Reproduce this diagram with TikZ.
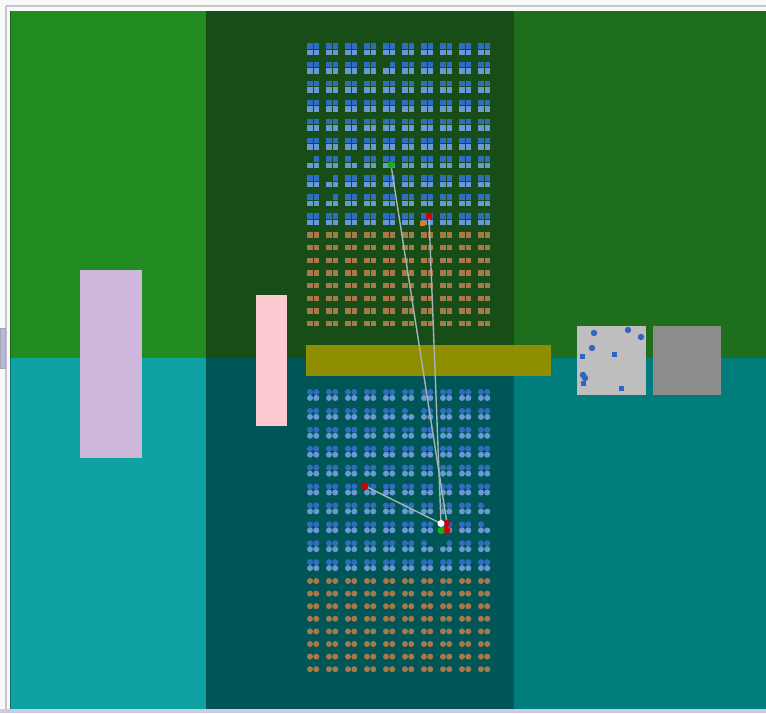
\documentclass[tikz,border=0pt]{standalone}
\begin{document}
\definecolor{cTL}{HTML}{228B22}
\definecolor{cTC}{HTML}{174D17}
\definecolor{cTR}{HTML}{1E6E1E}
\definecolor{cBL}{HTML}{0EA2A2}
\definecolor{cBC}{HTML}{005656}
\definecolor{cBR}{HTML}{007C7C}
\definecolor{bdark}{HTML}{2F6DC0}
\definecolor{blight}{HTML}{6A98D2}
\definecolor{brn}{HTML}{A6784A}
\definecolor{thist}{HTML}{CDB8DB}
\definecolor{pinkr}{HTML}{FDCAD2}
\definecolor{olive}{HTML}{8E8E00}
\definecolor{lgray}{HTML}{BEBEBE}
\definecolor{mgray}{HTML}{8C8C8C}
\definecolor{dotblue}{HTML}{2F64C0}
\definecolor{linec}{HTML}{A6B4B4}
\definecolor{tabc}{HTML}{B8B8E6}
\begin{tikzpicture}[x=1pt,y=-1pt,
  conn/.style={draw=linec,line width=1.4pt},
  mark1/.style={circle,inner sep=0pt,minimum size=7pt},
]
\useasboundingbox (0,0) rectangle (766,713);
\fill[white!95!gray] (0,0) rectangle (766,713);
\draw[gray!45,line width=1.5pt] (6,6) -- (766,6);
\draw[gray!45,line width=1.5pt] (6,6) -- (6,713);
\fill[gray!65!blue!30] (0,709) rectangle (766,713);
% tab on the left
\fill[tabc,draw=gray!70] (0,328) rectangle (5,368);
% panels
\fill[cTL] (10,11) rectangle (206,358);
\fill[cTC] (206,11) rectangle (514,358);
\fill[cTR] (514,11) rectangle (766,358);
\fill[cBL] (10,358) rectangle (206,709);
\fill[cBC] (206,358) rectangle (514,709);
\fill[cBR] (514,358) rectangle (766,709);
\draw[cTL!70!black,line width=1pt] (10.5,11) -- (10.5,358);
\draw[cBL!70!black,line width=1pt] (10.5,358) -- (10.5,709);
% rectangles
\fill[thist] (80,270) rectangle (142,458);
\fill[pinkr] (256,295) rectangle (287,426);
\fill[olive] (306,345) rectangle (551,376);
\fill[lgray] (577,326) rectangle (646,395);
\fill[mgray] (653,326) rectangle (721,395);
% dots in light gray square
\foreach \p in {(594,333),(628,330),(641,337),(592,348),(583,375),(585,378)}
  \fill[dotblue] \p circle (3.2);
\foreach \p in {(582,356),(614,354),(583,383),(621,388)}
  \fill[dotblue] \p ++(-2.5,-2.5) rectangle ++(5,5);
% top grid: blue square cells
\foreach \i in {0,...,9} {
  \foreach \j in {0,...,9} {
    \pgfmathsetmacro\xx{307+19*\i}
    \pgfmathsetmacro\yy{43+18.9*\j}
    \fill[bdark] (\xx,\yy) rectangle ++(5.5,5.5);
    \fill[bdark] (\xx+6.5,\yy) rectangle ++(5.5,5.5);
    \fill[blight] (\xx,\yy+6.5) rectangle ++(5.5,5.5);
    \fill[blight] (\xx+6.5,\yy+6.5) rectangle ++(5.5,5.5);
  }
  \foreach \j in {0,...,7} {
    \pgfmathsetmacro\xx{307+19*\i}
    \pgfmathsetmacro\yy{235+12.67*\j}
    \fill[brn] (\xx,\yy-2.75) rectangle ++(5.5,5.5);
    \fill[brn] (\xx+6.5,\yy-2.75) rectangle ++(5.5,5.5);
  }
}
% missing pieces in top grid
\foreach \i/\j/\dx in {4/1/0,0/6/0,2/6/6.5,1/7/0,1/8/0} {
  \pgfmathsetmacro\xx{307+19*\i+\dx}
  \pgfmathsetmacro\yy{43+18.9*\j}
  \fill[cTC] (\xx-0.5,\yy-0.5) rectangle ++(6.5,6.5);
}
% bottom grid: blue circle cells
\foreach \i in {0,...,9} {
  \foreach \j in {0,...,9} {
    \pgfmathsetmacro\xx{310+19*\i}
    \pgfmathsetmacro\yy{395+18.9*\j}
    \fill[bdark] (\xx,\yy-3) circle (3);
    \fill[bdark] (\xx+6.3,\yy-3) circle (3);
    \fill[blight] (\xx,\yy+3) circle (3);
    \fill[blight] (\xx+6.3,\yy+3) circle (3);
  }
  \foreach \j in {0,...,7} {
    \pgfmathsetmacro\xx{310+19*\i}
    \pgfmathsetmacro\yy{581+12.6*\j}
    \fill[brn] (\xx,\yy) circle (3);
    \fill[brn] (\xx+6.3,\yy) circle (3);
  }
}
% missing pieces in bottom grid
\foreach \i/\j/\dx in {5/1/6.3,9/6/6.3,9/7/6.3,6/8/6.3,7/8/0} {
  \pgfmathsetmacro\xx{310+19*\i+\dx}
  \pgfmathsetmacro\yy{395+18.9*\j}
  \fill[cBC] (\xx,\yy-3) circle (3.3);
}
% markers and connectors
\coordinate (g1) at (391,165);
\coordinate (r1) at (429,216);
\coordinate (r2) at (365,486);
\coordinate (w1) at (441,523.5);
\coordinate (r3) at (447,523.5);
\coordinate (r4) at (447,530.5);
\coordinate (g2) at (441,530.5);
\draw[conn] (g1) -- (r3);
\draw[conn] (r1) -- (w1);
\draw[conn] (r2) -- (w1);
\node[mark1,fill=green!65!black!90] (ng1) at (g1) {};
\node[mark1,fill=red!85!black] (nr1) at (r1) {};
\fill[orange!90!red] (419.5,220.5) rectangle ++(5,5);
\node[mark1,fill=red!85!black] (nr2) at (r2) {};
\node[mark1,fill=red!85!black] (nr3) at (r3) {};
\node[mark1,fill=red!85!black] (nr4) at (r4) {};
\node[mark1,fill=green!65!black!90] (ng2) at (g2) {};
\node[mark1,fill=white] (nw1) at (w1) {};
\end{tikzpicture}
\end{document}
